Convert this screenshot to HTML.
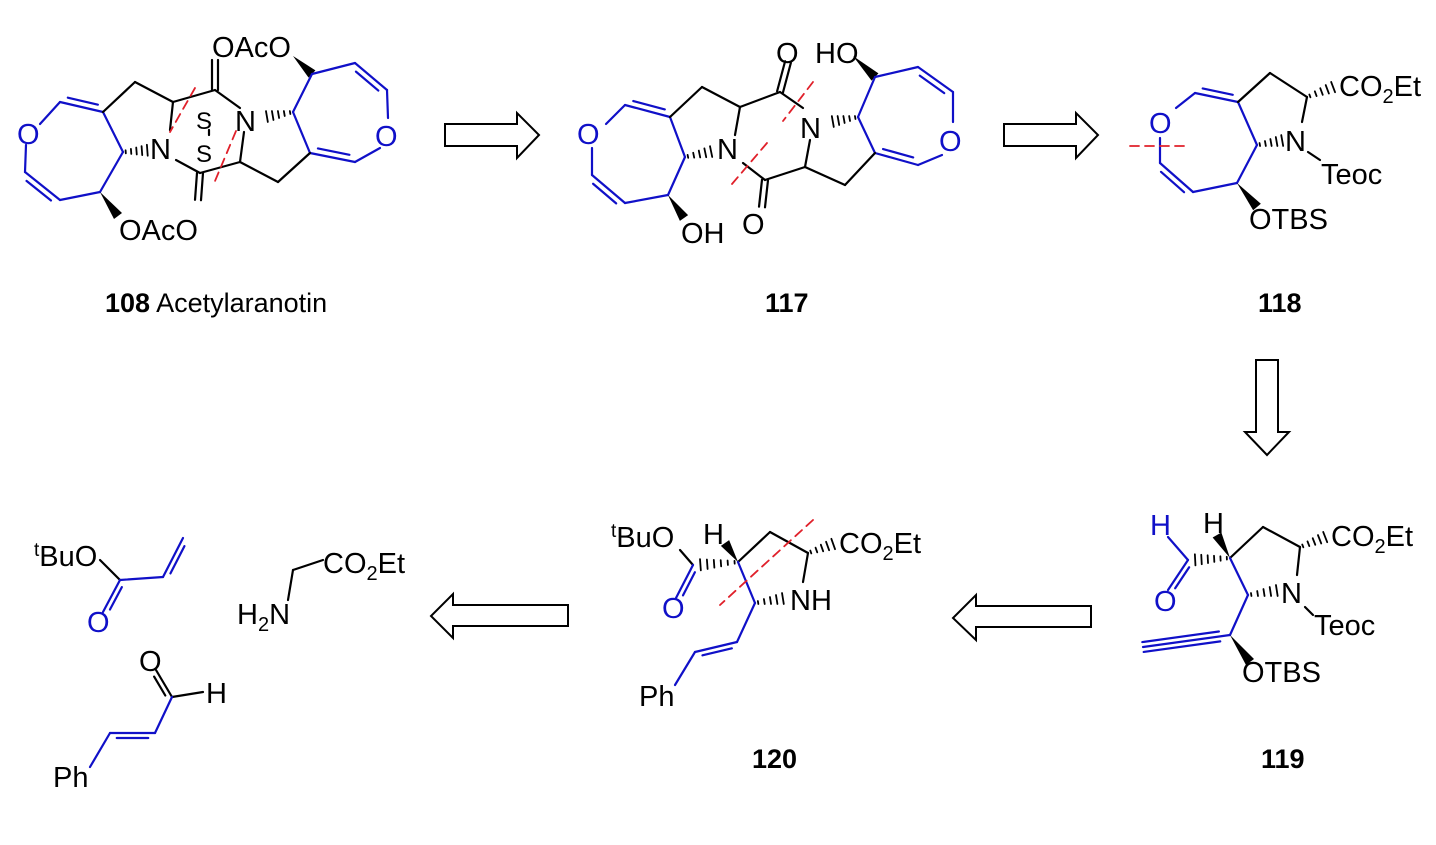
<!DOCTYPE html>
<html><head><meta charset="utf-8"><style>
html,body{margin:0;padding:0;background:#fff;}
svg{display:block}
text{font-family:"Liberation Sans",Arial,sans-serif;font-size:29px;fill:#000}
.b{fill:#1010c8}
.lab{font-size:27px}
</style></head><body>
<svg id="s" width="1436" height="845" viewBox="0 0 1436 845" xmlns="http://www.w3.org/2000/svg">
<g id="g" stroke-linecap="round" fill="none" stroke-width="2.2"></g>
<g fill="#fff" stroke="#000" stroke-width="2">
<polygon points="445,124 517,124 517,113 539,135 517,158 517,146 445,146"/>
<polygon points="1004,124 1076,124 1076,113 1098,135 1076,158 1076,146 1004,146"/>
<polygon points="1256,360 1278,360 1278,432 1289,432 1267,455 1245,432 1256,432"/>
<polygon points="1091,606 976,606 976,595 953,618 976,640 976,627 1091,627"/>
<polygon points="568,605 453,605 453,594 431,616 453,638 453,626 568,626"/>
</g>
<text class="b" x="17" y="144">O</text>
<text x="150" y="159">N</text>
<text x="235" y="131">N</text>
<text x="196" y="129" style="font-size:24px">S</text>
<text x="196" y="162" style="font-size:24px">S</text>
<text x="212" y="57">OAcO</text>
<text x="119" y="240">OAcO</text>
<text class="b" x="375" y="146">O</text>
<text x="105" y="312" class="lab"><tspan font-weight="bold">108</tspan>  Acetylaranotin</text>
<text class="b" x="577" y="144">O</text>
<text x="717" y="159">N</text>
<text x="800" y="138">N</text>
<text x="776" y="63">O</text>
<text x="815" y="63">HO</text>
<text x="742" y="234">O</text>
<text x="681" y="243">OH</text>
<text class="b" x="939" y="151">O</text>
<text x="765" y="312" class="lab" font-weight="bold">117</text>
<text class="b" x="1149" y="133">O</text>
<text x="1285" y="151">N</text>
<text x="1339" y="96">CO<tspan font-size="20" dy="7">2</tspan><tspan dy="-7">Et</tspan></text>
<text x="1321" y="184">Teoc</text>
<text x="1249" y="229">OTBS</text>
<text x="1258" y="312" class="lab" font-weight="bold">118</text>
<text class="b" x="1150" y="535">H</text>
<text class="b" x="1154" y="611">O</text>
<text x="1203" y="533">H</text>
<text x="1281" y="603">N</text>
<text x="1331" y="546">CO<tspan font-size="20" dy="7">2</tspan><tspan dy="-7">Et</tspan></text>
<text x="1314" y="635">Teoc</text>
<text x="1242" y="682">OTBS</text>
<text x="1261" y="768" class="lab" font-weight="bold">119</text>
<text x="611" y="547"><tspan font-size="19" dy="-10">t</tspan><tspan dy="10">BuO</tspan></text>
<text x="703" y="544">H</text>
<text class="b" x="662" y="618">O</text>
<text x="790" y="610">NH</text>
<text x="839" y="553">CO<tspan font-size="20" dy="7">2</tspan><tspan dy="-7">Et</tspan></text>
<text x="639" y="706">Ph</text>
<text x="752" y="768" class="lab" font-weight="bold">120</text>
<text x="34" y="566"><tspan font-size="19" dy="-10">t</tspan><tspan dy="10">BuO</tspan></text>
<text class="b" x="87" y="632">O</text>
<text x="323" y="573">CO<tspan font-size="20" dy="7">2</tspan><tspan dy="-7">Et</tspan></text>
<text x="237" y="624">H<tspan font-size="20" dy="7">2</tspan><tspan dy="-7">N</tspan></text>
<text x="139" y="671">O</text>
<text x="206" y="703">H</text>
<text x="53" y="787">Ph</text>
</svg>
<script>
var g=document.getElementById('g'),NS='http://www.w3.org/2000/svg';
var K='#000',B='#1010c8',R='#e0202a';
function L(x1,y1,x2,y2,c,extra){var l=document.createElementNS(NS,'line');l.setAttribute('x1',x1);l.setAttribute('y1',y1);l.setAttribute('x2',x2);l.setAttribute('y2',y2);l.setAttribute('stroke',c||K);if(extra)for(var k in extra)l.setAttribute(k,extra[k]);g.appendChild(l);}
function P(pts,c){var p=document.createElementNS(NS,'polygon');p.setAttribute('points',pts);p.setAttribute('fill',c||K);p.setAttribute('stroke','none');g.appendChild(p);}
function D(x1,y1,x2,y2,c,side,off){off=off||6;var dx=x2-x1,dy=y2-y1,len=Math.hypot(dx,dy),nx=-dy/len*off*side,ny=dx/len*off*side;L(x1,y1,x2,y2,c);var s=0.15;L(x1+dx*s+nx,y1+dy*s+ny,x2-dx*s+nx,y2-dy*s+ny,c);}
function C2(x1,y1,x2,y2,c){var dx=x2-x1,dy=y2-y1,len=Math.hypot(dx,dy),nx=-dy/len*3,ny=dx/len*3;L(x1+nx,y1+ny,x2+nx,y2+ny,c);L(x1-nx,y1-ny,x2-nx,y2-ny,c);}
function T(x1,y1,x2,y2,c){var dx=x2-x1,dy=y2-y1,len=Math.hypot(dx,dy),nx=-dy/len*5,ny=dx/len*5;L(x1,y1,x2,y2,c);var s=0.12;L(x1+dx*s+nx,y1+dy*s+ny,x2+nx,y2+ny,c);L(x1+dx*s-nx,y1+dy*s-ny,x2-nx,y2-ny,c);}
function H(x1,y1,x2,y2,n){n=n||6;var dx=x2-x1,dy=y2-y1,len=Math.hypot(dx,dy),ux=-dy/len,uy=dx/len;for(var i=0;i<n;i++){var t=(i+0.5)/n,w=1+5*t,cx=x1+dx*t,cy=y1+dy*t;L(cx-ux*w,cy-uy*w,cx+ux*w,cy+uy*w,K,{'stroke-width':1.8});}}
function W(x1,y1,x2,y2){var dx=x2-x1,dy=y2-y1,len=Math.hypot(dx,dy),ux=-dy/len*5,uy=dx/len*5;P(x1+','+y1+' '+(x2+ux)+','+(y2+uy)+' '+(x2-ux)+','+(y2-uy));}
function RD(x1,y1,x2,y2){L(x1,y1,x2,y2,R,{'stroke-dasharray':'9,6','stroke-width':1.8});}
L(40,124,60,102,B);D(60,102,103,112,B,-1);L(103,112,123,152,B);L(123,152,100,192,B);L(100,192,60,200,B);D(60,200,25,172,B,-1);L(25,172,26,145,B);
L(103,112,135,82);L(135,82,173,102);L(173,102,170,130);H(123,152,150,150,5);
L(173,102,215,90);C2(215,90,215,60);L(215,90,240,108);
W(293,56,312,74);L(312,74,355,63,B);D(355,63,387,90,B,1);L(387,90,388,118,B);L(380,148,355,162,B);D(355,162,310,153,B,1);L(310,153,293,112,B);L(293,112,312,74,B);
H(293,112,264,117,5);L(244,132,240,162);L(240,162,278,182);L(278,182,310,153);L(240,162,200,173);C2(200,173,198,200);L(176,160,200,173);
W(100,192,118,216);L(209,130,209,135);
RD(195,88,170,132);RD(236,131,215,181);
L(606,124,625,105,B);D(625,105,670,117,B,-1);L(670,117,685,157,B);L(685,157,668,195,B);L(668,195,625,203,B);D(625,203,592,175,B,-1);L(592,175,592,148,B);
L(670,117,702,87);L(702,87,740,107);L(740,107,735,135);H(685,157,714,151,5);
L(740,107,780,92);C2(780,92,788,62);L(780,92,803,108);
W(853,56,875,77);L(875,77,918,67,B);D(918,67,953,92,B,1);L(953,92,953,122,B);L(942,155,918,165,B);D(918,165,875,153,B,1);L(875,153,858,117,B);L(858,117,875,77,B);
H(858,117,830,122,5);L(810,140,805,167);L(805,167,845,185);L(845,185,875,153);L(805,167,765,180);C2(765,180,762,207);L(743,163,765,180);
W(668,195,684,218);
RD(813,82,783,121);RD(767,143,732,184);
L(1176,108,1195,93,B);D(1195,93,1238,102,B,-1);L(1238,102,1257,145,B);L(1257,145,1237,183,B);L(1237,183,1193,192,B);D(1193,192,1160,163,B,-1);L(1160,163,1160,138,B);
L(1238,102,1270,73);L(1270,73,1307,97);L(1307,97,1302,122);H(1307,97,1336,86,5);H(1257,145,1285,140,5);L(1308,152,1320,160);
W(1237,183,1257,207);RD(1130,146,1190,146);
L(1168,537,1188,560,B);D(1188,560,1168,590,B,-1,5);H(1230,558,1192,560,6);W(1230,558,1217,535);
L(1230,558,1263,527);L(1263,527,1300,547);L(1300,547,1297,575);H(1300,547,1328,536,5);
L(1230,558,1248,595,B);H(1248,595,1280,590,5);L(1305,607,1313,615);L(1248,595,1230,635,B);T(1230,635,1143,647,B);W(1230,635,1250,662);
L(680,550,693,565);D(693,565,676,598,B,-1,5);H(738,562,697,565,6);W(738,562,725,543);
L(738,562,770,532);L(770,532,808,553);L(808,553,803,582);H(808,553,836,543,5);
L(738,562,755,603,B);H(755,603,786,598,5);L(755,603,737,642,B);D(737,642,695,652,B,-1,5);L(695,652,675,685,B);
RD(813,520,720,605);
L(100,560,120,580);D(120,580,103,612,B,-1,5);L(120,580,163,577,B);D(163,577,183,538,B,1,5);
L(323,560,293,570);L(293,570,288,600);
D(172,697,156,670,K,-1,5);L(172,697,203,692);L(172,697,155,733,B);D(155,733,110,733,B,-1,5);L(110,733,90,767,B);
</script>
</body></html>
